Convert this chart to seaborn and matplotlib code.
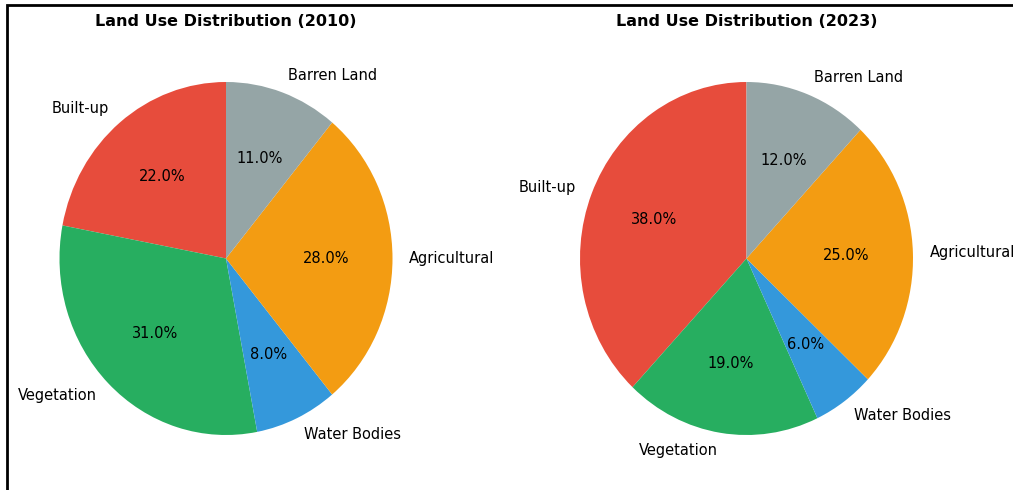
import matplotlib
matplotlib.use("Agg")
import matplotlib.pyplot as plt
import seaborn as sns
from matplotlib.patches import Rectangle

sns.set_theme(style="white")
plt.rcParams['font.family'] = ['DejaVu Sans']
plt.rcParams['text.color'] = 'black'

categories = ["Built-up", "Vegetation", "Water Bodies", "Agricultural", "Barren Land"]
values_2010 = [22, 31, 8, 28, 11]
values_2023 = [38, 19, 6, 25, 12]
titles = ["Land Use Distribution (2010)", "Land Use Distribution (2023)"]
colors = ["#e74c3c", "#27ae60", "#3498db", "#f39c12", "#95a5a6"]

W, H = 1013, 490
fig = plt.figure(figsize=(W / 100, H / 100), dpi=100)

RX, RY = 166.5, 176.5
centers = [(226, 258.5), (746.5, 258.5)]

for (cx, cy), vals, title in zip(centers, [values_2010, values_2023], titles):
    hx, hy = 1.25 * RX, 1.25 * RY
    ax = fig.add_axes([(cx - hx) / W, (H - cy - hy) / H, 2 * hx / W, 2 * hy / H])
    ax.pie(vals, labels=categories, colors=colors, autopct="%1.1f%%", startangle=90,
           textprops={"fontsize": 10.5, "color": "black"},
           wedgeprops={"linewidth": 0, "edgecolor": "none"})
    ax.set_xlim(-1.25, 1.25)
    ax.set_ylim(-1.25, 1.25)
    ax.set_aspect("auto")
    fig.text(cx / W, 1 - 22 / H, title, ha="center", va="center",
             fontsize=11.5, fontweight="bold", color="black")

fig.patches.append(Rectangle((6.5 / W, -0.1), 1.2, (H - 5.5) / H + 0.1, transform=fig.transFigure,
                             fill=False, edgecolor="black", linewidth=2, clip_on=False))

fig.savefig("out.png", dpi=100)
